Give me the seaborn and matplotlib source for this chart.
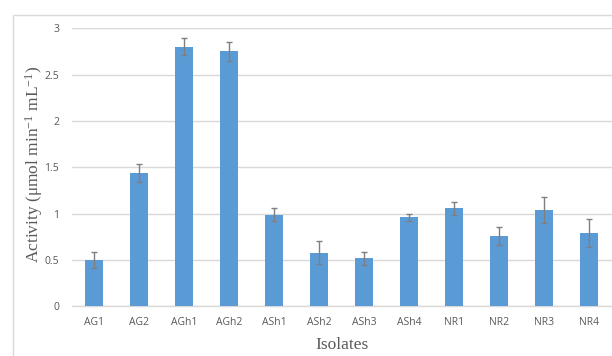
import matplotlib
matplotlib.use("Agg")
import matplotlib.pyplot as plt
import seaborn as sns
import pandas as pd
import numpy as np
from matplotlib.patches import Rectangle

isolates = ["AG1", "AG2", "AGh1", "AGh2", "ASh1", "ASh2", "ASh3", "ASh4",
            "NR1", "NR2", "NR3", "NR4"]
activity = [0.50, 1.44, 2.80, 2.75, 0.99, 0.58, 0.52, 0.96, 1.06, 0.76, 1.04, 0.79]
errors = [0.09, 0.10, 0.09, 0.10, 0.07, 0.12, 0.07, 0.04, 0.07, 0.10, 0.14, 0.15]
yticks = [0, 0.5, 1, 1.5, 2, 2.5, 3]
ytick_labels = ["0", "0.5", "1", "1.5", "2", "2.5", "3"]

df = pd.DataFrame({"Isolate": isolates, "Activity": activity, "err": errors})

sns.set_theme(style="white")
plt.rcParams["mathtext.fontset"] = "custom"
plt.rcParams["mathtext.rm"] = "Liberation Serif"
plt.rcParams["mathtext.it"] = "Liberation Serif:italic"

fig = plt.figure(figsize=(6.12, 3.56), dpi=100)
W, H = 612, 356
ax = fig.add_axes([71.5 / W, (H - 306.3) / H, 540 / W, 278 / H])

grid_c = "#d9d9d9"
text_c = "#595959"

sns.barplot(data=df, x="Isolate", y="Activity", color="#5B9BD5", width=0.4,
            saturation=1, errorbar=None, ax=ax, zorder=3, linewidth=0)
ax.errorbar(x=np.arange(len(isolates)), y=df["Activity"], yerr=df["err"],
            fmt="none", ecolor="#7f7f7f", elinewidth=1, capsize=2.5,
            capthick=1, zorder=4)

ax.set_xlim(-0.5, len(isolates) - 0.5)
ax.set_ylim(0, 3)
ax.set_yticks(yticks)
ax.set_yticklabels(ytick_labels)
ax.yaxis.grid(True, color=grid_c, linewidth=1)
ax.set_axisbelow(True)
for s in ["top", "right", "left"]:
    ax.spines[s].set_visible(False)
ax.spines["bottom"].set_color(grid_c)
ax.spines["bottom"].set_linewidth(1)
ax.tick_params(axis="both", length=0, colors=text_c, labelsize=7.5)
ax.tick_params(axis="y", pad=9)
ax.tick_params(axis="x", pad=8)
for lab in ax.get_xticklabels() + ax.get_yticklabels():
    lab.set_fontfamily("Open Sans")

ax.set_xlabel("Isolates", fontsize=12.5, color=text_c, family="Liberation Serif",
              labelpad=6)
ax.set_ylabel(r"Activity (μmol min$^{-1}$ mL$^{-1}$)", fontsize=12.5,
              color=text_c, family="Liberation Serif")
ax.yaxis.set_label_coords((45.5 - 71.5) / 540, 0.51)

# outer chart border (cropped)
fig.patches.append(Rectangle((13 / W, -0.1), 1.2, (H - 15) / H + 0.1,
                             transform=fig.transFigure, fill=False,
                             edgecolor=grid_c, linewidth=1, zorder=0))

fig.savefig("out.png", dpi=100)
